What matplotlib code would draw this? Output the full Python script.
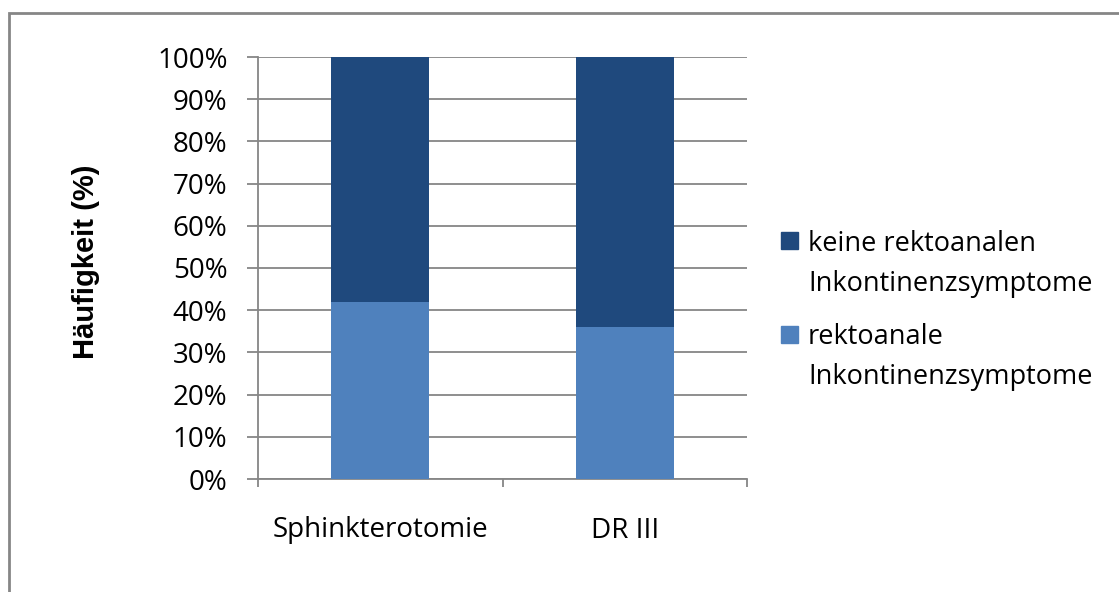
import matplotlib.pyplot as plt
import matplotlib.patches as mpatches
import numpy as np

# Stacked 100% bars: share of patients with / without rectoanal incontinence symptoms
categories = ['Sphinkterotomie', 'DR III']
mit_symptomen = [42, 36]
ohne_symptomen = [58, 64]
legende_ohne = ['keine rektoanalen', 'Inkontinenzsymptome']
legende_mit = ['rektoanale', 'Inkontinenzsymptome']
y_ticks = list(range(0, 101, 10))

hell = '#4F81BD'
dunkel = '#1F497D'
grau = '#868686'

W, H = 1119, 592
plt.rcParams['font.family'] = ['Open Sans', 'DejaVu Sans']

fig = plt.figure(figsize=(W / 100, H / 100), dpi=100)

# outer chart frame
fig.patches.append(mpatches.Rectangle((8.5 / W, -0.1), 1.2, 1 - 12.5 / H + 0.1,
                                      transform=fig.transFigure, fill=False,
                                      edgecolor=grau, linewidth=2))

ax = fig.add_axes([258 / W, 1 - 479 / H, (747 - 258) / W, (479 - 57) / H])

x = np.arange(len(categories))
b1 = ax.bar(x, mit_symptomen, width=0.4, color=hell, zorder=3)
b2 = ax.bar(x, ohne_symptomen, bottom=mit_symptomen, width=0.4, color=dunkel, zorder=3)

ax.set_xlim(-0.5, len(categories) - 0.5)
ax.set_ylim(0, 100)
ax.set_yticks(y_ticks)
ax.set_yticklabels([f'{v}%' for v in y_ticks], fontsize=20)
ax.yaxis.grid(True, color=grau, linewidth=1.3, zorder=0)

# category ticks sit between the groups
ax.set_xticks(np.arange(-0.5, len(categories)))
ax.set_xticklabels([])
ax.set_xticks(x, minor=True)
ax.set_xticklabels(categories, minor=True, fontsize=20)
ax.tick_params(axis='x', which='minor', length=0, pad=27)
ax.tick_params(axis='x', which='major', length=6, color=grau, width=1.3)
ax.tick_params(axis='y', length=8, color=grau, width=1.3, pad=14)

for s in ['top', 'right']:
    ax.spines[s].set_visible(False)
for s in ['left', 'bottom']:
    ax.spines[s].set_color(grau)
    ax.spines[s].set_linewidth(1.3)

fig.text(86 / W, 1 - 262 / H, 'Häufigkeit (%)', rotation=90, ha='center', va='center',
         fontsize=21, fontweight='bold', family=['Liberation Sans', 'DejaVu Sans'])

# legend: square next to the first line of each two-line entry
for farbe, zeilen, quad_top, baselines in [(dunkel, legende_ohne, 232, (251, 291)),
                                           (hell, legende_mit, 326, (344, 384))]:
    fig.patches.append(mpatches.Rectangle((781 / W, 1 - (quad_top + 17) / H), 17 / W, 17 / H,
                                          transform=fig.transFigure, color=farbe))
    for zeile, yb in zip(zeilen, baselines):
        fig.text(808 / W, 1 - yb / H, zeile, fontsize=19.5, va='baseline', ha='left')

fig.savefig('out.png', dpi=100)
